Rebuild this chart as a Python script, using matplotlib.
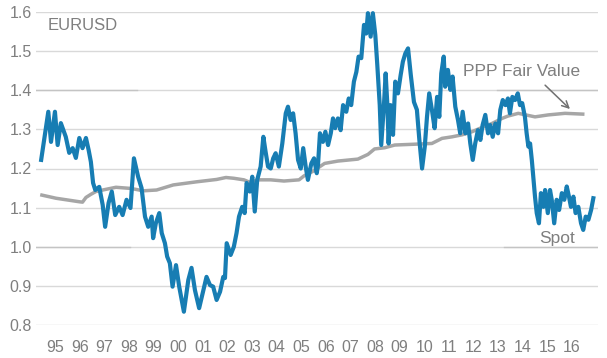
import matplotlib
matplotlib.use("Agg")
import matplotlib.pyplot as plt

plt.rcParams['font.family'] = ['Liberation Sans', 'DejaVu Sans']

# EURUSD spot (decimal year, level)
spot_years = [1994.93, 1995.05, 1995.22, 1995.33, 1995.49, 1995.60, 1995.73, 1995.93,
              1996.07, 1996.21, 1996.34, 1996.48, 1996.61, 1996.75, 1996.86, 1996.95,
              1997.04, 1997.13, 1997.29, 1997.43, 1997.53, 1997.67, 1997.80, 1997.94,
              1998.10, 1998.24, 1998.40, 1998.56, 1998.70, 1998.87, 1999.01, 1999.15,
              1999.28, 1999.42, 1999.48, 1999.59, 1999.73, 1999.83, 1999.96, 2000.05,
              2000.16, 2000.27, 2000.41, 2000.54, 2000.73, 2000.91, 2001.04, 2001.18,
              2001.35, 2001.52, 2001.65, 2001.79, 2001.92, 2002.06, 2002.20, 2002.33,
              2002.40, 2002.47, 2002.63, 2002.76, 2002.87, 2002.97, 2003.10, 2003.20,
              2003.28, 2003.41, 2003.51, 2003.61, 2003.71, 2003.85, 2003.96, 2004.05,
              2004.15, 2004.26, 2004.36, 2004.46, 2004.59, 2004.73, 2004.87, 2004.96,
              2005.07, 2005.17, 2005.27, 2005.37, 2005.48, 2005.58, 2005.68, 2005.77,
              2005.91, 2006.02, 2006.13, 2006.18, 2006.26, 2006.38, 2006.48, 2006.59,
              2006.70, 2006.79, 2006.88, 2006.99, 2007.10, 2007.20, 2007.33, 2007.43,
              2007.53, 2007.64, 2007.74, 2007.83, 2007.94, 2008.05, 2008.14, 2008.21,
              2008.32, 2008.41, 2008.51, 2008.59, 2008.69, 2008.75, 2008.86, 2008.93,
              2009.00, 2009.05, 2009.13, 2009.23, 2009.32, 2009.43, 2009.54, 2009.63,
              2009.73, 2009.84, 2009.95, 2010.08, 2010.20, 2010.30, 2010.41, 2010.52,
              2010.61, 2010.70, 2010.81, 2010.92, 2011.02, 2011.11, 2011.19, 2011.29,
              2011.35, 2011.46, 2011.56, 2011.65, 2011.76, 2011.87, 2011.96, 2012.06,
              2012.17, 2012.28, 2012.37, 2012.47, 2012.57, 2012.68, 2012.78, 2012.87,
              2012.98, 2013.09, 2013.18, 2013.28, 2013.39, 2013.50, 2013.59, 2013.69,
              2013.80, 2013.90, 2013.98, 2014.08, 2014.19, 2014.30, 2014.39, 2014.48,
              2014.59, 2014.66, 2014.73, 2014.80, 2014.87, 2014.93, 2015.00, 2015.07,
              2015.16, 2015.24, 2015.34, 2015.41, 2015.52, 2015.61, 2015.68, 2015.78,
              2015.88, 2015.98, 2016.09, 2016.19, 2016.29, 2016.38, 2016.46, 2016.56,
              2016.65, 2016.76, 2016.87, 2016.96, 2017.06, 2017.17, 2017.28, 2017.37]
spot = [1.222, 1.273, 1.345, 1.268, 1.345, 1.260, 1.316, 1.281,
        1.240, 1.252, 1.227, 1.278, 1.252, 1.278, 1.247, 1.217,
        1.163, 1.145, 1.153, 1.107, 1.051, 1.112, 1.141, 1.081,
        1.102, 1.081, 1.120, 1.099, 1.226, 1.179, 1.150, 1.077,
        1.051, 1.077, 1.022, 1.060, 1.086, 1.035, 1.009, 0.975,
        0.958, 0.898, 0.953, 0.898, 0.834, 0.915, 0.946, 0.889,
        0.843, 0.889, 0.923, 0.902, 0.898, 0.864, 0.885, 0.923,
        0.920, 1.009, 0.979, 1.000, 1.035, 1.077, 1.102, 1.086,
        1.163, 1.141, 1.179, 1.090, 1.171, 1.205, 1.281, 1.243,
        1.205, 1.200, 1.226, 1.239, 1.205, 1.264, 1.341, 1.358,
        1.324, 1.341, 1.290, 1.222, 1.200, 1.252, 1.205, 1.171,
        1.213, 1.226, 1.188, 1.209, 1.290, 1.268, 1.294, 1.260,
        1.290, 1.328, 1.303, 1.328, 1.298, 1.362, 1.345, 1.379,
        1.362, 1.422, 1.447, 1.486, 1.482, 1.567, 1.545, 1.597,
        1.537, 1.597, 1.541, 1.465, 1.362, 1.260, 1.362, 1.443,
        1.362, 1.264, 1.362, 1.286, 1.422, 1.392, 1.439, 1.473,
        1.494, 1.507, 1.440, 1.370, 1.350, 1.273, 1.200, 1.256,
        1.332, 1.392, 1.350, 1.303, 1.383, 1.332, 1.443, 1.486,
        1.409, 1.452, 1.401, 1.435, 1.358, 1.324, 1.290, 1.345,
        1.290, 1.315, 1.264, 1.222, 1.264, 1.298, 1.273, 1.311,
        1.337, 1.290, 1.311, 1.281, 1.315, 1.290, 1.350, 1.375,
        1.362, 1.379, 1.341, 1.383, 1.375, 1.392, 1.362, 1.367,
        1.332, 1.290, 1.256, 1.264, 1.222, 1.179, 1.128, 1.086,
        1.060, 1.137, 1.102, 1.145, 1.086, 1.145, 1.120, 1.060,
        1.120, 1.094, 1.137, 1.120, 1.154, 1.128, 1.102, 1.128,
        1.086, 1.102, 1.060, 1.043, 1.077, 1.069, 1.094, 1.124]

# PPP fair value
ppp_years = [1994.96, 1995.39, 1995.53, 1996.48, 1996.61, 1996.75, 1996.95, 1997.15,
             1997.43, 1997.97, 1998.58, 1999.08, 1999.62, 2000.30, 2001.25, 2002.06,
             2002.44, 2002.76, 2003.17, 2003.44, 2003.71, 2004.26, 2004.80, 2005.41,
             2005.61, 2005.95, 2006.26, 2006.45, 2006.99, 2007.80, 2008.21, 2008.48,
             2008.89, 2009.30, 2010.08, 2010.81, 2011.22, 2011.63, 2012.03, 2012.44,
             2012.85, 2013.25, 2013.66, 2013.90, 2014.32, 2015.00, 2015.54, 2016.22,
             2016.94]
ppp = [1.132, 1.126, 1.124, 1.115, 1.114, 1.126, 1.134, 1.141,
       1.145, 1.152, 1.149, 1.143, 1.145, 1.158, 1.166, 1.172,
       1.177, 1.175, 1.171, 1.164, 1.171, 1.171, 1.168, 1.171,
       1.181, 1.192, 1.205, 1.213, 1.219, 1.224, 1.236, 1.250,
       1.253, 1.260, 1.262, 1.264, 1.277, 1.281, 1.286, 1.294,
       1.305, 1.315, 1.328, 1.334, 1.341, 1.332, 1.337, 1.341,
       1.339]

year_labels = ['95', '96', '97', '98', '99', '00', '01', '02', '03', '04', '05',
               '06', '07', '08', '09', '10', '11', '12', '13', '14', '15', '16']
y_ticks = [0.8, 0.9, 1.0, 1.1, 1.2, 1.3, 1.4, 1.5, 1.6]

txt = '#7f7f7f'
blue = '#177db3'
grey = '#a6a6a6'

fig = plt.figure(figsize=(6.07, 3.58), dpi=100)
ax = fig.add_axes([36 / 607, 1 - 325 / 358, 562 / 607, 313 / 358])

ax.plot(ppp_years, ppp, color=grey, lw=2.5, zorder=2, clip_on=False)
ax.plot(spot_years, spot, color=blue, lw=3.0, zorder=3, clip_on=False)

ax.set_xlim(1994.72, 2017.56)
ax.set_ylim(0.8, 1.6)
ax.set_yticks(y_ticks)
ax.set_yticklabels([f'{v:.1f}' for v in y_ticks])
ax.set_xticks([1995.5 + i for i in range(len(year_labels))])
ax.set_xticklabels(year_labels)
ax.tick_params(axis='both', length=0, labelsize=11.5, colors=txt)
ax.tick_params(axis='y', pad=3)
ax.tick_params(axis='x', pad=11)
for s in ax.spines.values():
    s.set_visible(False)
ax.grid(axis='y', color='#d9d9d9', lw=1)
ax.set_axisbelow(True)
# slightly darker gridline segments left over from text boxes
for yy, a, b in [(1.4, 0, 0.18), (1.4, 0.82, 1), (1.0, 0, 0.167), (1.0, 0.833, 1)]:
    ax.axhline(yy, xmin=a, xmax=b, color='#c4c4c4', lw=1, zorder=1)

fig.text(48 / 607, 1 - 26 / 358, 'EURUSD', color=txt, fontsize=12, va='center', ha='left')
ax.text(2012.07, 1.447, 'PPP Fair Value', color=txt, fontsize=12.5, va='center', ha='left')
ax.text(2015.89, 1.022, 'Spot', color=txt, fontsize=12.5, va='center', ha='center')
ax.annotate('', xy=(2016.42, 1.352), xytext=(2015.41, 1.413),
            arrowprops=dict(arrowstyle='->', color='#707070', lw=1.1,
                            mutation_scale=12, shrinkA=0, shrinkB=0))

fig.savefig('out.png', dpi=100)
